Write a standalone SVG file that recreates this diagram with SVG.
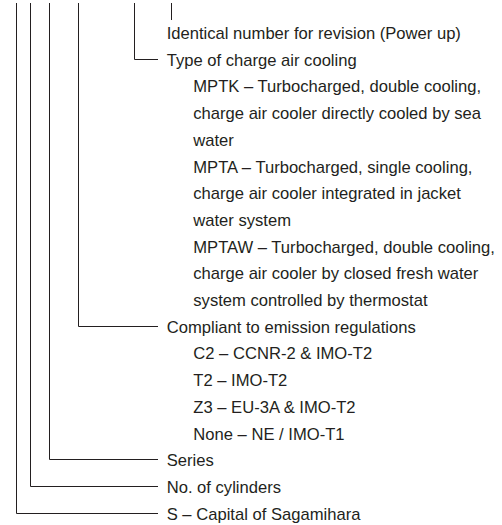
<svg xmlns="http://www.w3.org/2000/svg" width="502" height="525" viewBox="0 0 502 525">
<style>
text{font-family:"Liberation Sans",Arial,sans-serif;font-size:16.6px;fill:#231f20}
.c{fill:none;stroke:#231f20;stroke-width:1}
</style>
<rect width="502" height="525" fill="#fff"/>
<g id="connectors">
<path class="c" d="M171.5 3V20"/>
<path class="c" d="M134.5 3V59.5H158"/>
<path class="c" d="M78.5 3V326.5H158"/>
<path class="c" d="M49.5 3V459.5H158"/>
<path class="c" d="M30.5 3V486.5H158"/>
<path class="c" d="M16.5 3V513.5H158"/>
</g>
<g id="revision"><text x="166.7" y="39">Identical number for revision (Power up)</text></g>
<g id="cooling">
<text x="166.7" y="65.7">Type of charge air cooling</text>
<text x="193.3" y="92.4">MPTK – Turbocharged, double cooling,</text>
<text x="193.3" y="119.1">charge air cooler directly cooled by sea</text>
<text x="193.3" y="145.8">water</text>
<text x="193.3" y="172.5">MPTA – Turbocharged, single cooling,</text>
<text x="193.3" y="199.2">charge air cooler integrated in jacket</text>
<text x="193.3" y="225.9">water system</text>
<text x="193.3" y="252.6">MPTAW – Turbocharged, double cooling,</text>
<text x="193.3" y="279.3">charge air cooler by closed fresh water</text>
<text x="193.3" y="306">system controlled by thermostat</text>
</g>
<g id="emission">
<text x="166.7" y="332.7">Compliant to emission regulations</text>
<text x="193.3" y="359.4">C2 – CCNR-2 &amp; IMO-T2</text>
<text x="193.3" y="386.1">T2 – IMO-T2</text>
<text x="193.3" y="412.8">Z3 – EU-3A &amp; IMO-T2</text>
<text x="193.3" y="439.5">None – NE / IMO-T1</text>
</g>
<g id="series"><text x="166.7" y="466.2">Series</text></g>
<g id="cylinders"><text x="166.7" y="492.9">No. of cylinders</text></g>
<g id="capital"><text x="166.7" y="519.6">S – Capital of Sagamihara</text></g>
</svg>
